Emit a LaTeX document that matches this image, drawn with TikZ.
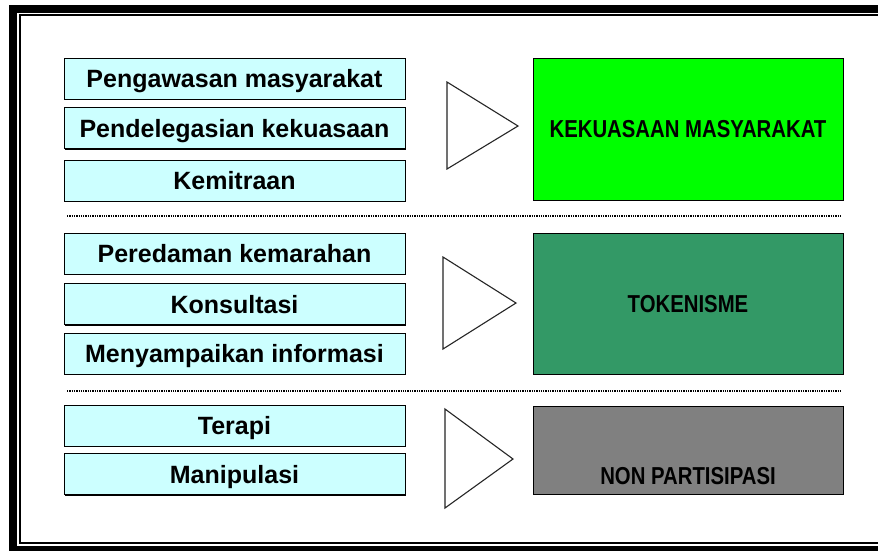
\documentclass[tikz,border=0pt]{standalone}
\usepackage{fontspec}
\setmainfont{Liberation Sans}
\usepackage{graphicx}
\usetikzlibrary{shadows}
\definecolor{cyanlight}{HTML}{CCFFFF}
\definecolor{brightgreen}{HTML}{00FF00}
\definecolor{seagreen}{HTML}{339966}
\definecolor{midgray}{HTML}{808080}
\begin{document}
\begin{tikzpicture}[x=1pt,y=-1pt,
  shadowed/.style={general shadow={fill=black, shadow xshift=1.2pt, shadow yshift=-1.2pt}},
  lbox/.style={shadowed, draw=black, line width=0.9pt, fill=cyanlight,
    minimum width=341pt, minimum height=41pt, inner sep=0pt,
    font=\bfseries\fontsize{25}{25}\selectfont, text height=18pt, text depth=0pt},
  rbox/.style={shadowed, draw=black, line width=0.9pt,
    minimum width=310pt, inner sep=0pt,
    font=\bfseries\fontsize{24.5}{24.5}\selectfont, text height=17.5pt, text depth=0pt},
  tri/.style={draw=black!85, line width=1.1pt, fill=white, line join=miter},
  dotline/.style={draw=black, line width=1.3pt, dash pattern=on 1.3pt off 1pt}
]
\useasboundingbox (0,0) rectangle (878,550);
\clip (0,0) rectangle (878,550);
\fill[white] (0,0) rectangle (878,550);
% frame
\draw[line width=8pt] (13,9) rectangle (900,550);
\draw[line width=2pt] (20,15) rectangle (900,543);
% left boxes
\node[lbox] (b1) at (234.5,78.5) {Pengawasan masyarakat};
\node[lbox] (b2) at (234.5,128) {Pendelegasian kekuasaan};
\node[lbox] (b3) at (234.5,180.5) {Kemitraan};
\node[lbox] (b4) at (234.5,253.5) {Peredaman kemarahan};
\node[lbox] (b5) at (234.5,304) {Konsultasi};
\node[lbox] (b6) at (234.5,353.5) {Menyampaikan informasi};
\node[lbox] (b7) at (234.5,425.5) {Terapi};
\node[lbox] (b8) at (234.5,474) {Manipulasi};
% right boxes
\node[rbox, fill=brightgreen, minimum height=142pt] (r1) at (688,129)
  {\scalebox{0.83}[1]{KEKUASAAN MASYARAKAT}};
\node[rbox, fill=seagreen, minimum height=141pt] (r2) at (688,303.5)
  {\scalebox{0.83}[1]{TOKENISME}};
\node[rbox, fill=midgray, minimum height=88pt] (r3) at (688,450) {};
\node[anchor=base, inner sep=0pt, font=\bfseries\fontsize{24.5}{24.5}\selectfont] (t3) at (688,484)
  {\scalebox{0.83}[1]{NON PARTISIPASI}};
% triangles
\draw[tri] (447,82) -- (518,126) -- (447,169) -- cycle;
\draw[tri] (443,257) -- (516,303) -- (443,349) -- cycle;
\draw[tri] (445,409) -- (513,459) -- (445,508) -- cycle;
% dotted separators
\coordinate (d1a) at (67,216); \coordinate (d1b) at (842,216);
\coordinate (d2a) at (67,391); \coordinate (d2b) at (842,391);
\draw[dotline] (d1a) -- (d1b);
\draw[dotline] (d2a) -- (d2b);
\end{tikzpicture}
\end{document}
